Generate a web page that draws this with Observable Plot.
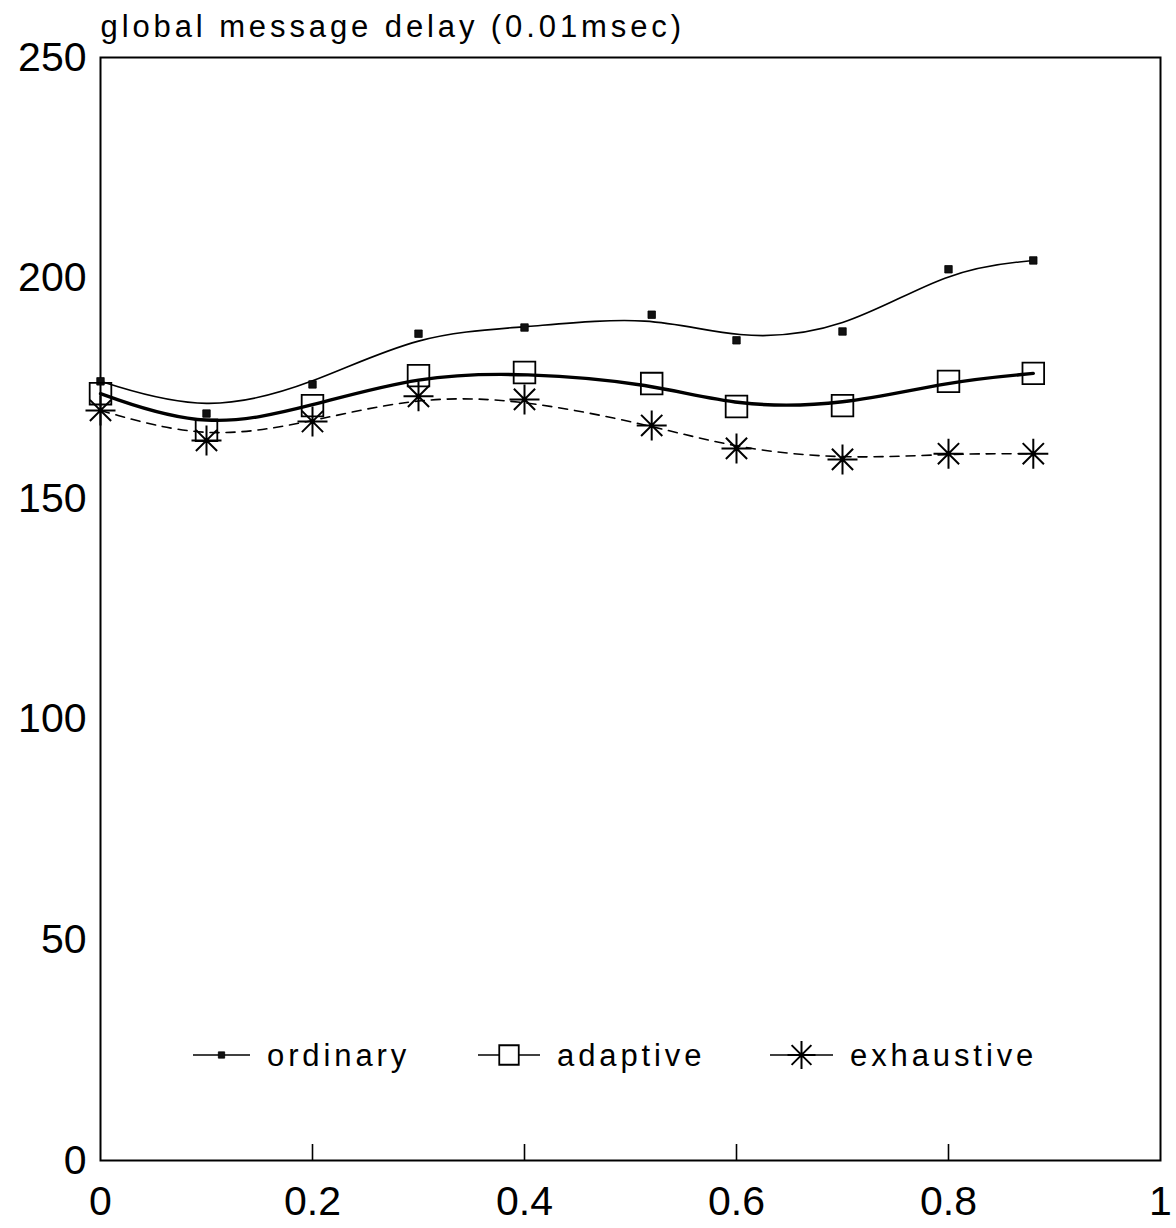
<!DOCTYPE html>
<html>
<head>
<meta charset="utf-8">
<script src="https://cdn.jsdelivr.net/npm/d3@7"></script>
<script src="https://cdn.jsdelivr.net/npm/@observablehq/plot@0.6"></script>
<style>
  html, body { margin: 0; padding: 0; background: #fff; }
  #chart { position: relative; width: 1176px; height: 1228px; }
</style>
</head>
<body>
<div id="chart"></div>
<script>
// Offered load (x) and mean global message delay in units of 0.01 msec
const loads = [0, 0.1, 0.2, 0.3, 0.4, 0.52, 0.6, 0.7, 0.8, 0.88];
const ordinary = [176.6, 169.3, 175.9, 187.4, 188.8, 191.7, 185.9, 187.9, 202.0, 204.0];
const adaptive = [173.8, 165.5, 171.1, 177.9, 178.6, 176.1, 170.9, 171.1, 176.6, 178.4];
const exhaustive = [170.0, 163.2, 167.5, 173.2, 172.5, 166.6, 161.4, 158.9, 160.2, 160.2];

const seriesNames = ["ordinary", "adaptive", "exhaustive"];
const xTicks = [0, 0.2, 0.4, 0.6, 0.8, 1];
const xInnerTicks = [0.2, 0.4, 0.6, 0.8];
const yTicks = [0, 50, 100, 150, 200, 250];
const yLabel = "global message delay (0.01msec)";

// Eight-armed asterisk symbol (vertical, horizontal and both diagonals)
const asterisk8 = {
  draw(context, size) {
    const r = Math.sqrt(size / Math.PI);
    for (let i = 0; i < 4; i++) {
      const a = (i * Math.PI) / 4;
      const dx = r * Math.cos(a), dy = r * Math.sin(a);
      context.moveTo(-dx, -dy);
      context.lineTo(dx, dy);
    }
  }
};

const rows = (values) => loads.map((x, i) => ({x, y: values[i]}));
const ordRows = rows(ordinary);
const adaRows = rows(adaptive);
const exhRows = rows(exhaustive);

const W = 1176, H = 1228;
const margin = {top: 57, right: 16, bottom: 68, left: 100};
const innerH = H - margin.top - margin.bottom;

const plot = Plot.plot({
  width: W,
  height: H,
  marginTop: margin.top,
  marginRight: margin.right,
  marginBottom: margin.bottom,
  marginLeft: margin.left,
  style: {fontFamily: "Liberation Sans, Arial, sans-serif", background: "#fff", color: "#000"},
  x: {domain: [0, 1]},
  y: {domain: [0, 250]},
  marks: [
    Plot.frame({stroke: "#000", strokeWidth: 2}),
    Plot.axisY({ticks: yTicks, tickSize: 0, tickPadding: 14, fontSize: 41, label: null}),
    Plot.axisX({ticks: xTicks, tickSize: 0, tickPadding: 25, fontSize: 41, label: null, tickFormat: (d) => String(d)}),
    Plot.ruleX(xInnerTicks, {stroke: "#000", strokeWidth: 1.6, insetTop: innerH - 16}),
    Plot.text([yLabel], {frameAnchor: "top-left", textAnchor: "start", dy: -43, fontSize: 31, fill: "#000"}),
    // fitted curves
    Plot.line(ordRows, {x: "x", y: "y", curve: "basis", stroke: "#000", strokeWidth: 1.6}),
    Plot.line(adaRows, {x: "x", y: "y", curve: "basis", stroke: "#000", strokeWidth: 3.4}),
    Plot.line(exhRows, {x: "x", y: "y", curve: "basis", stroke: "#000", strokeWidth: 1.6, strokeDasharray: "9,7"}),
    // measured points
    Plot.dot(ordRows, {x: "x", y: "y", symbol: "square", r: 4.2, fill: "#111", stroke: "#000", strokeWidth: 0.8}),
    Plot.dot(adaRows, {x: "x", y: "y", symbol: "square", r: 12.2, fill: "none", stroke: "#000", strokeWidth: 1.8}),
    Plot.dot(exhRows, {x: "x", y: "y", symbol: asterisk8, r: 15, fill: "none", stroke: "#000", strokeWidth: 2})
  ]
});

// widen the title lettering like a plotter font
d3.select(plot).selectAll('g[aria-label="text"] text').attr("letter-spacing", "3.9px");

// legend row inside the frame, near the bottom
const legendY = 1055;
const legendItems = [
  {name: seriesNames[0], x0: 193, x1: 250, symbol: d3.symbolSquare, size: 40, fill: "#111", sw: 0.8},
  {name: seriesNames[1], x0: 478, x1: 540, symbol: d3.symbolSquare, size: 380, fill: "#fff", sw: 1.8},
  {name: seriesNames[2], x0: 770, x1: 833, symbol: asterisk8, size: Math.PI * 14 * 14, fill: "none", sw: 2}
];
const legend = d3.select(plot).append("g").attr("class", "legend");
for (const it of legendItems) {
  const g = legend.append("g");
  g.append("line")
    .attr("x1", it.x0).attr("x2", it.x1)
    .attr("y1", legendY).attr("y2", legendY)
    .attr("stroke", "#000").attr("stroke-width", 1.6);
  g.append("path")
    .attr("transform", `translate(${(it.x0 + it.x1) / 2},${legendY})`)
    .attr("d", d3.symbol(it.symbol, it.size)())
    .attr("fill", it.fill).attr("stroke", "#000").attr("stroke-width", it.sw);
  g.append("text")
    .attr("x", it.x1 + 17).attr("y", legendY)
    .attr("dy", "0.35em")
    .attr("text-anchor", "start")
    .attr("font-size", 31)
    .attr("letter-spacing", "3.9px")
    .attr("fill", "#000")
    .text(it.name);
}

document.getElementById("chart").appendChild(plot);
</script>
</body>
</html>
